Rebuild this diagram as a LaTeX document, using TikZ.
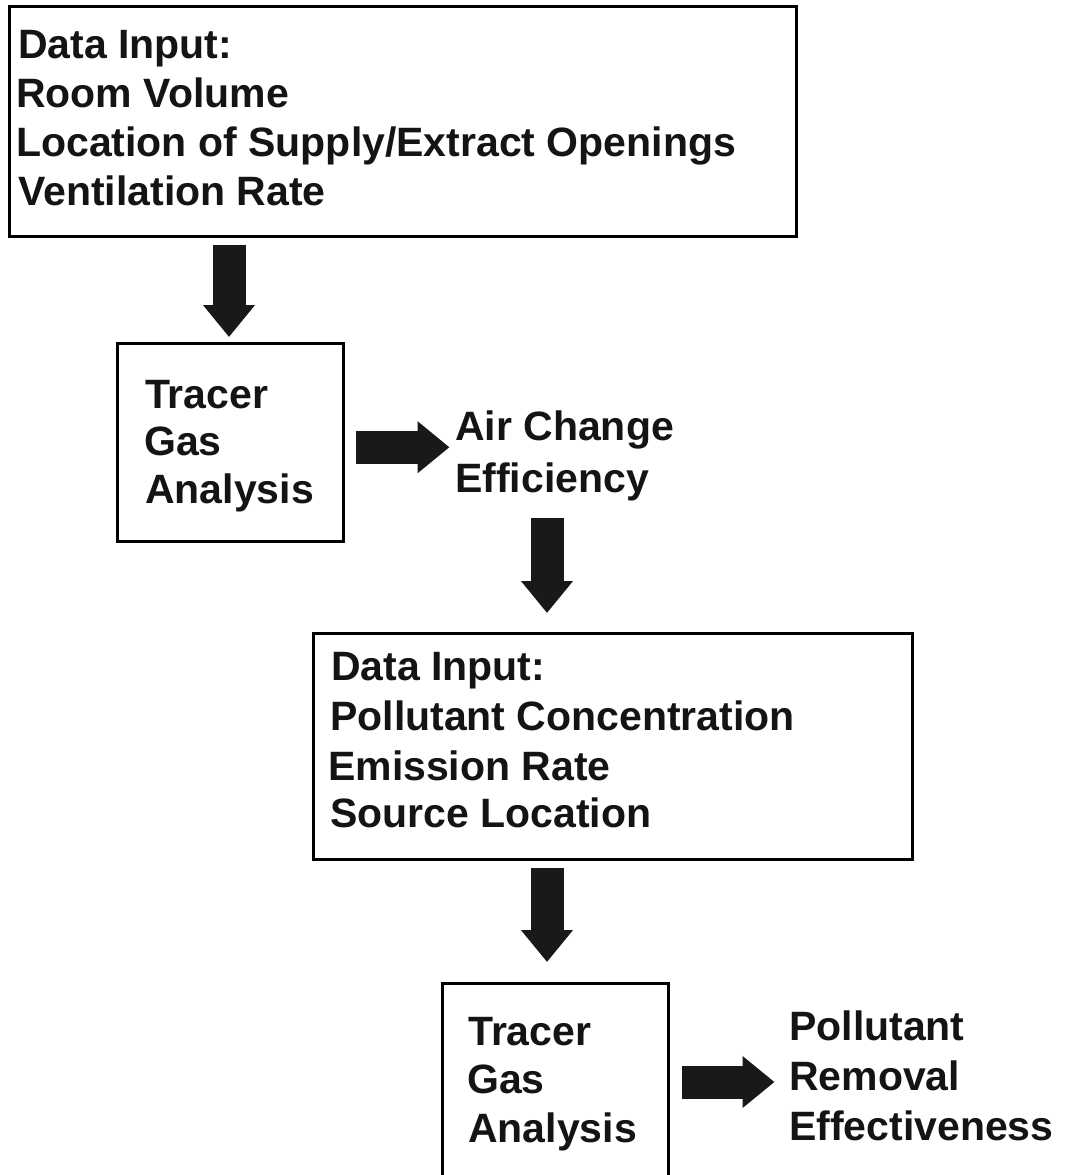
\documentclass[tikz,border=0pt]{standalone}
\usepackage{fontspec}
\setmainfont{Liberation Sans}
\usetikzlibrary{arrows.meta,calc}
\begin{document}
\begin{tikzpicture}[x=1pt,y=-1pt,
  box/.style={draw=black, line width=2.5pt, inner sep=0pt, anchor=north west},
  txt/.style={anchor=base west, inner sep=0pt, font=\bfseries\fontsize{41}{48}\selectfont, text=black!92},
  blk/.style={draw=black!90, line width=33pt, -{Triangle[width=50pt,length=32pt]}}]
\clip (0,0) rectangle (1065,1175);
\fill[white] (0,0) rectangle (1065,1175);
% boxes
\node[box, minimum width=787pt, minimum height=230pt] (b1) at (8,5) {};
\node[box, minimum width=226pt, minimum height=198pt] (b2) at (116,342) {};
\node[box, minimum width=599pt, minimum height=226pt] (b3) at (312,632) {};
\node[box, minimum width=226pt, minimum height=260pt] (b4) at (441,982) {};
% box 1 text
\node[txt] (t1a) at (18,58) {Data Input:};
\node[txt] (t1b) at (16,107) {Room Volume};
\node[txt] (t1c) at (16,156) {Location of Supply/Extract Openings};
\node[txt] (t1d) at (18,205) {Ventilation Rate};
% box 2 text
\node[txt] (t2a) at (145,408) {Tracer};
\node[txt] (t2b) at (144,455) {Gas};
\node[txt] (t2c) at (145,503) {Analysis};
% result 1
\node[txt] (r1a) at (455,440) {Air Change};
\node[txt] (r1b) at (455,492) {Efficiency};
% box 3 text
\node[txt] (t3a) at (331,680) {Data Input:};
\node[txt] (t3b) at (330,730) {Pollutant Concentration};
\node[txt] (t3c) at (328,780) {Emission Rate};
\node[txt] (t3d) at (330,827) {Source Location};
% box 4 text
\node[txt] (t4a) at (468,1045) {Tracer};
\node[txt] (t4b) at (467,1093) {Gas};
\node[txt] (t4c) at (468,1142) {Analysis};
% result 2
\node[txt] (r2a) at (789,1040) {Pollutant};
\node[txt] (r2b) at (789,1090) {Removal};
\node[txt] (r2c) at (789,1140) {Effectiveness};
% block arrows
\draw[blk] ($(b1.south west)+(221,7)$) -- ($(b2.north west)+(113,-5)$);
\draw[blk] ($(b2.east)+(11,5)$) -- ($(b2.east)+(105,5)$);
\draw[blk] ($(b3.north west)+(235,-114)$) -- ($(b3.north west)+(235,-19)$);
\draw[blk] ($(b3.south west)+(235,7)$) -- ($(b4.north west)+(106,-20)$);
\draw[blk] ($(b4.north east)+(12,100)$) -- ($(b4.north east)+(105,100)$);
\end{tikzpicture}
\end{document}
